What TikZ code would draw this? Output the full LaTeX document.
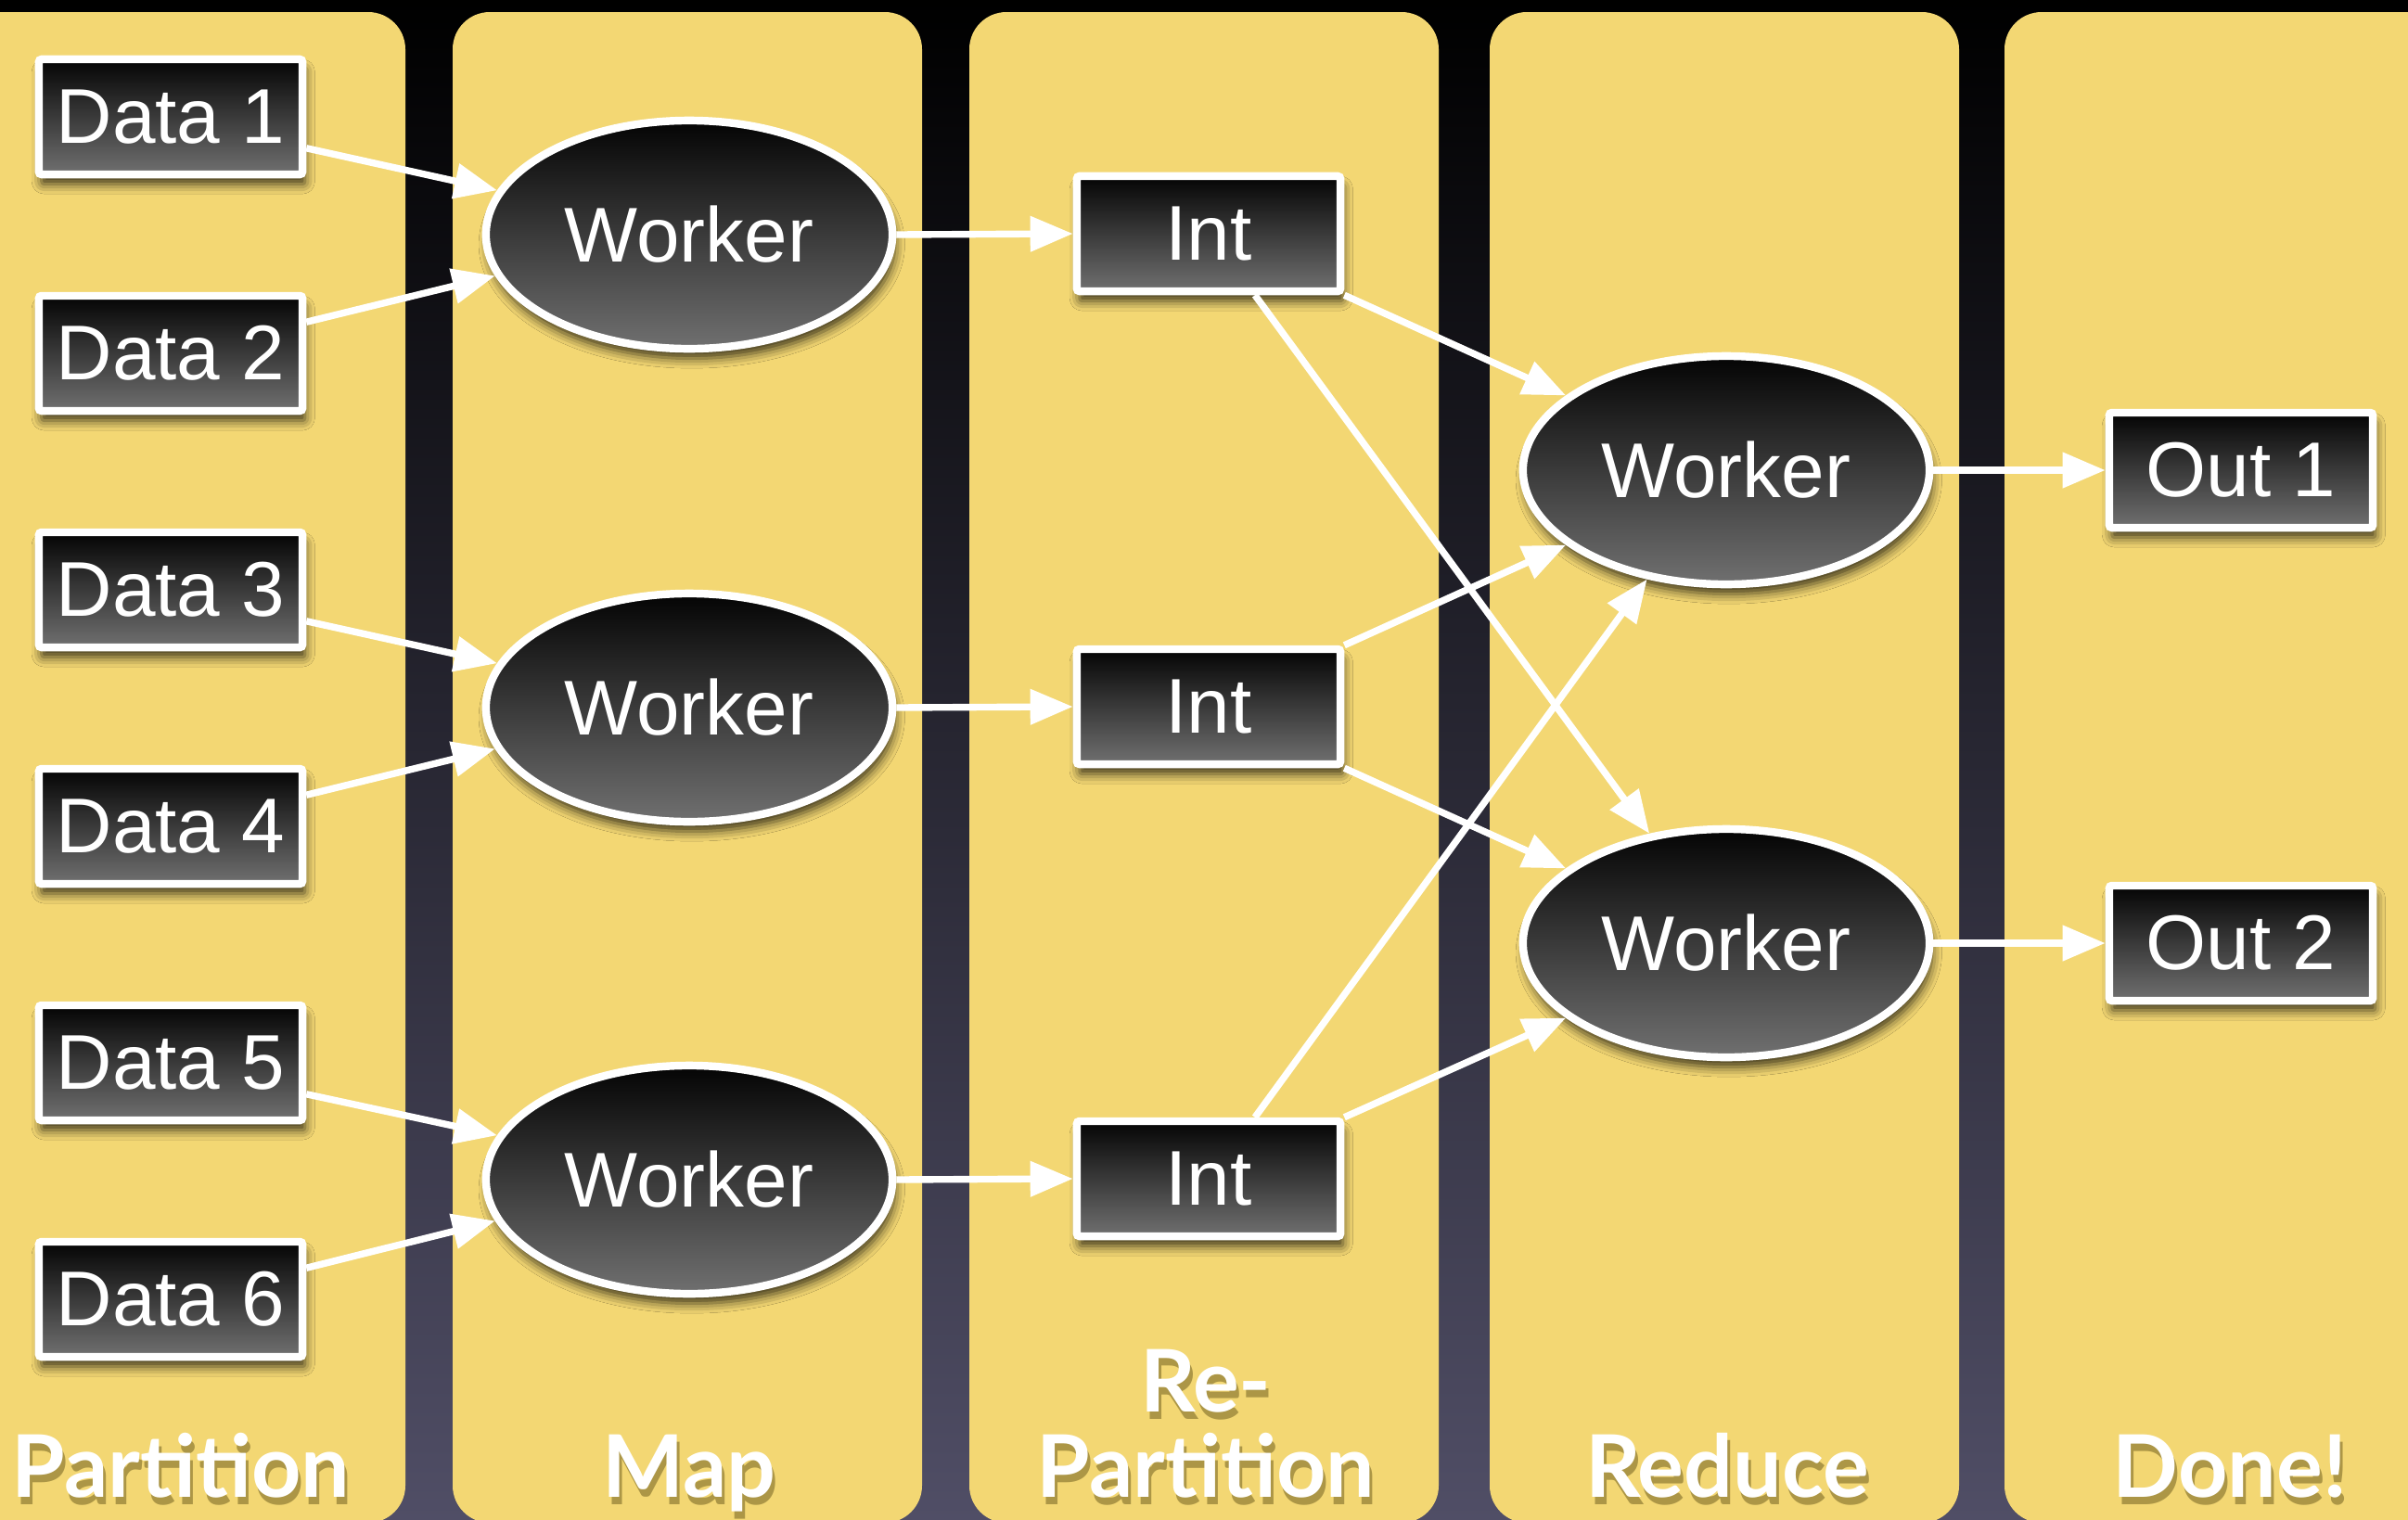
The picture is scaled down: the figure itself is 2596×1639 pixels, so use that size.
\documentclass[tikz,border=0pt]{standalone}
\usepackage{fontspec}
\setmainfont{Liberation Sans}
\newfontfamily\stagefont{Lato}
\usetikzlibrary{shapes.geometric,arrows.meta,shadows.blur}

\definecolor{paper}{RGB}{243,215,115}
\definecolor{nightbot}{RGB}{80,78,102}
\definecolor{boxtop}{RGB}{4,4,4}
\definecolor{boxbot}{RGB}{112,112,112}
\definecolor{capshade}{RGB}{172,150,70}

% caption with a drop shade set underneath it
\newcommand\stagecap[1]{%
  \makebox[0pt][l]{\hspace{0.03cm}\raisebox{-0.08cm}{\color{capshade}#1}}%
  #1}

\tikzset{
  unit/.style={draw=white, line width=2.4pt, top color=boxtop, bottom color=boxbot,
    inner sep=0pt, text=white, font=\fontsize{23.8}{28}\selectfont,
    blur shadow={shadow xshift=0.8pt, shadow yshift=-3pt,
      shadow blur radius=3pt, shadow opacity=75}},
  datum/.style={unit, rectangle, rounded corners=0.8pt,
    minimum width=2.84cm, minimum height=1.24cm},
  worker/.style={unit, ellipse, minimum width=4.38cm, minimum height=2.46cm},
  flow/.style={draw=white, line width=2.1pt,
    -{Triangle[length=0.46cm, width=0.37cm]}},
  stage/.style={text=white, anchor=base, inner sep=0pt,
    font=\stagefont\bfseries\fontsize{26.5}{30}\selectfont},
  column/.style={fill=paper, rounded corners=0.4cm}
}

\begin{document}
\begin{tikzpicture}[x=0.01cm, y=-0.01cm]
  \useasboundingbox (0,0) rectangle (2596,1639);
  \clip (0,0) rectangle (2596,1639);

  % night backdrop
  \shade[top color=black, bottom color=nightbot] (0,0) rectangle (2596,1639);

  % the five stage columns
  \fill[column] (-80,13) rectangle (437,1642);
  \fill[column] (488,13) rectangle (994,1642);
  \fill[column] (1045,13) rectangle (1551,1642);
  \fill[column] (1606,13) rectangle (2112,1642);
  \fill[column] (2161,13) rectangle (2680,1642);

  % stage captions
  \node[stage] (stpa) at (195,1614)  {\stagecap{Partition}};
  \node[stage] (stma) at (743,1614)  {\stagecap{Map}};
  \node[stage] (stre) at (1300,1522) {\stagecap{Re-}};
  \node[stage] (strp) at (1300,1614) {\stagecap{Partition}};
  \node[stage] (strd) at (1862,1614) {\stagecap{Reduce}};
  \node[stage] (stdn) at (2404,1614) {\stagecap{Done!}};

  % input partitions
  \node[datum] (d1) at (184,126)  {Data 1};
  \node[datum] (d2) at (184,381)  {Data 2};
  \node[datum] (d3) at (184,636)  {Data 3};
  \node[datum] (d4) at (184,891)  {Data 4};
  \node[datum] (d5) at (184,1146) {Data 5};
  \node[datum] (d6) at (184,1401) {Data 6};

  % map workers
  \node[worker] (m1) at (743,253)  {Worker};
  \node[worker] (m2) at (743,763)  {Worker};
  \node[worker] (m3) at (743,1272) {Worker};

  % intermediate results
  \node[datum] (i1) at (1303,252)  {Int};
  \node[datum] (i2) at (1303,762)  {Int};
  \node[datum] (i3) at (1303,1271) {Int};

  % reduce workers
  \node[worker] (r1) at (1861,507)  {Worker};
  \node[worker] (r2) at (1861,1017) {Worker};

  % outputs
  \node[datum] (o1) at (2416,507)  {Out 1};
  \node[datum] (o2) at (2416,1017) {Out 2};

  % partition -> map
  \draw[flow] (d1.-13) -- (m1.167);
  \draw[flow] (d2.13)  -- (m1.192);
  \draw[flow] (d3.-13) -- (m2.167);
  \draw[flow] (d4.13)  -- (m2.192);
  \draw[flow] (d5.-13) -- (m3.167);
  \draw[flow] (d6.13)  -- (m3.192);

  % map -> intermediate
  \draw[flow] (m1.east) -- (i1.west);
  \draw[flow] (m2.east) -- (i2.west);
  \draw[flow] (m3.east) -- (i3.west);

  % re-partition -> reduce
  \draw[flow] (i1.south east) -- (r1.155);
  \draw[flow] (i1.-53)        -- (r2.125.5);
  \draw[flow] (i2.north east) -- (r1.205);
  \draw[flow] (i2.south east) -- (r2.155);
  \draw[flow] (i3.53)         -- (r1.234.5);
  \draw[flow] (i3.north east) -- (r2.205);

  % reduce -> output
  \draw[flow] (r1.east) -- (o1.west);
  \draw[flow] (r2.east) -- (o2.west);
\end{tikzpicture}
\end{document}
